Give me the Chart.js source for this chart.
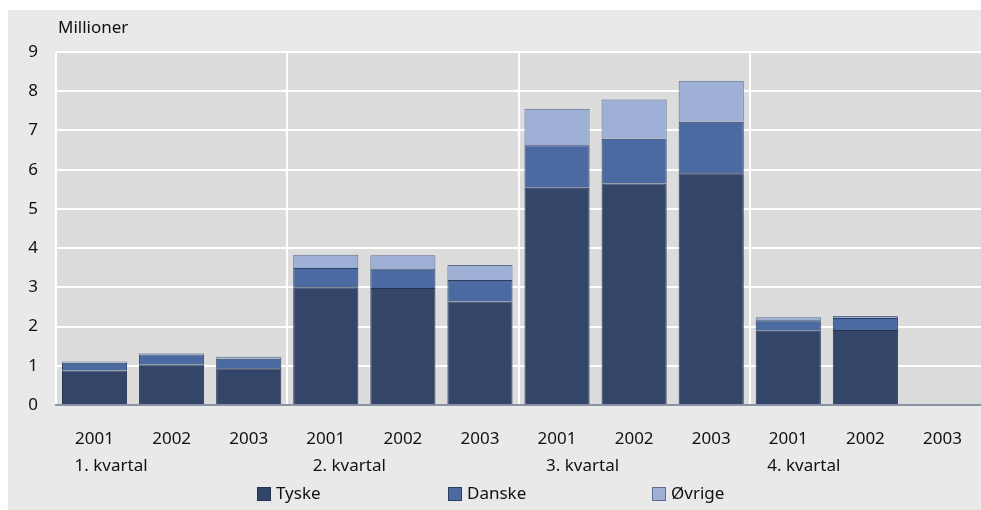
<!DOCTYPE html>
<html>
<head>
<meta charset="utf-8">
<script src="https://cdn.jsdelivr.net/npm/chart.js@4.4.1/dist/chart.umd.min.js"></script>
<style>
  html, body { margin: 0; padding: 0; background: #fff; }
  #wrap { width: 981px; height: 510px; }
</style>
</head>
<body>
<div id="wrap"><canvas id="tourChart" width="981" height="510"></canvas></div>
<script>
const years = ['2001','2002','2003','2001','2002','2003','2001','2002','2003','2001','2002','2003'];
const quarters = ['1. kvartal','2. kvartal','3. kvartal','4. kvartal'];
const tyske  = [0.88,1.03,0.94, 3.00,2.98,2.64, 5.54,5.65,5.91, 1.89,1.91, null];
const danske = [0.20,0.26,0.24, 0.49,0.50,0.55, 1.08,1.14,1.31, 0.27,0.31, null];
const ovrige = [0.03,0.03,0.05, 0.34,0.34,0.38, 0.93,1.00,1.05, 0.08,0.05, null];
const yTicks = [0,1,2,3,4,5,6,7,8,9];

const FONT = '"Noto Sans", "Open Sans", sans-serif';

// panel background, plot background, unit label, quarter labels, legend
const decor = {
    id:'decor',
    beforeDraw(chart){
        const c = chart.ctx, a = chart.chartArea;
        c.save();
        c.fillStyle = '#ffffff';
        c.fillRect(0,0,chart.width,chart.height);
        c.fillStyle = '#e9e9e9';
        c.fillRect(8,10,chart.width-8,chart.height-10);
        c.fillStyle = '#dcdcdc';
        c.fillRect(a.left,a.top,a.right-a.left,a.bottom-a.top);
        c.restore();
    },
    afterDraw(chart){
        const c = chart.ctx, a = chart.chartArea, x = chart.scales.x;
        c.save();
        c.font = '17px ' + FONT;
        c.fillStyle = '#111';
        c.textBaseline = 'middle';
        c.textAlign = 'left';
        c.fillText('Millioner', a.left + 2, 28);

        const offs = [-20,-13,-11,-21];
        quarters.forEach((q,i) => {
            c.fillText(q, x.getPixelForTick(i*3) + offs[i], 466);
        });

        const boxX = [257,448,652];
        chart.data.datasets.forEach((ds,i) => {
            c.fillStyle = ds.backgroundColor;
            c.fillRect(boxX[i],487,14,14);
            c.strokeStyle = ds.borderColor;
            c.lineWidth = 1;
            c.strokeRect(boxX[i]+0.5,487.5,13,13);
            c.fillStyle = '#111';
            c.fillText(ds.label, boxX[i]+19, 494);
        });
        c.restore();
    }
};

new Chart(document.getElementById('tourChart'),{
    type:'bar',
    data:{
        labels:years,
        datasets:[
            {label:'Tyske', data:tyske, backgroundColor:'#34456a', borderColor:'#26334f', borderWidth:1},
            {label:'Danske', data:danske, backgroundColor:'#4b6aa1', borderColor:'#2c3e60', borderWidth:1},
            {label:'Øvrige', data:ovrige, backgroundColor:'#9eb0d6', borderColor:'#5d6c8c', borderWidth:1}
        ]
    },
    options:{
        responsive:false,
        animation:false,
        layout:{padding:{top:52, left:8, right:0, bottom:0}},
        datasets:{bar:{categoryPercentage:1, barPercentage:0.845}},
        plugins:{
            legend:{display:false},
            tooltip:{enabled:false}
        },
        scales:{
            x:{
                stacked:true,
                offset:true,
                afterFit(s){ s.height = 105; s.paddingLeft = 0; s.paddingRight = 0; },
                grid:{
                    offset:true,
                    drawTicks:false,
                    lineWidth:2,
                    color:ctx => (ctx.index % 3 === 0 && ctx.index < 12) ? '#ffffff' : 'rgba(0,0,0,0)'
                },
                border:{display:true, color:'#8a92a6', width:2},
                ticks:{color:'#111', padding:24, font:{family:FONT, size:17}, maxRotation:0, autoSkip:false}
            },
            y:{
                stacked:true,
                min:0,
                max:9,
                afterFit(s){ s.width = 48; },
                afterBuildTicks(s){ s.ticks = yTicks.map(v => ({value:v})); },
                grid:{color:'#ffffff', lineWidth:2, drawTicks:false},
                border:{display:false},
                ticks:{color:'#111', padding:18, font:{family:FONT, size:17}}
            }
        }
    },
    plugins:[decor]
});
</script>
</body>
</html>
